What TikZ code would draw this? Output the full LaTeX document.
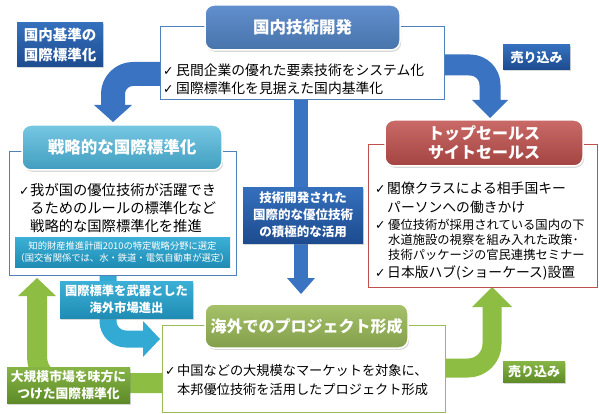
\documentclass[tikz,border=0pt]{standalone}
\usepackage{fontspec}
\setmainfont{Noto Sans CJK JP}
\newfontfamily\dvs{DejaVu Sans}
\usetikzlibrary{calc,shadows}
\newcommand\fsz[2]{\fontsize{#1}{#2}\selectfont}
\newcommand\chk[1]{\makebox[#1][l]{\dvs\fsz{12.5}{12}✓}}
\definecolor{arrblue}{HTML}{3A73C2}
\definecolor{arrteal}{HTML}{33AAD4}
\definecolor{arrgreen}{HTML}{8DBD42}
\definecolor{bordblue}{HTML}{4F81BD}
\definecolor{bordred}{HTML}{C0504D}
\definecolor{bordgreen}{HTML}{9BBB59}
\definecolor{blue1}{HTML}{3570BD}
\definecolor{blue2}{HTML}{1D4B8F}
\definecolor{teal1}{HTML}{3CB0D6}
\definecolor{teal2}{HTML}{1F8CB4}
\definecolor{green1}{HTML}{86B545}
\definecolor{green2}{HTML}{5E8B27}
\begin{document}
\begin{tikzpicture}[x=1pt,y=-1pt]
\tikzset{
  shaft/.style={line cap=butt, line join=round},
  panel/.style={fill=white, inner sep=0pt, line width=1pt},
  ttl/.style={rounded corners=9pt, draw=white, line width=1.5pt, text=white, align=center,
    inner sep=0pt, font=\bfseries\fsz{16.5}{19},
    drop shadow={shadow xshift=1.2pt, shadow yshift=-1.8pt, opacity=0.3}},
  lab/.style={text=white, align=center, inner sep=0pt, font=\bfseries\fsz{12.5}{17},
    drop shadow={shadow xshift=1.2pt, shadow yshift=-1.5pt, opacity=0.3}},
  dblue/.style={top color=blue1, bottom color=blue2},
  tealc/.style={top color=teal1, bottom color=teal2},
  greenc/.style={top color=green1, bottom color=green2},
  txt/.style={anchor=west, inner sep=0pt, text=black},
}
\useasboundingbox (0,0) rectangle (599,414);
\fill[white] (0,0) rectangle (599,414);

% arrow coordinates
\coordinate (a1s) at (170,74);  \coordinate (a1c) at (113,74);
\coordinate (a1b) at (113,106); \coordinate (a1t) at (113,122);
\coordinate (a2s) at (430,65);  \coordinate (a2c) at (490,65);
\coordinate (a2b) at (490,101); \coordinate (a2t) at (490,118);
\coordinate (a3s) at (301,95);  \coordinate (a3b) at (301,279);
\coordinate (a3t) at (301,294);
\coordinate (a4s) at (108,268); \coordinate (a4c) at (108,339);
\coordinate (a4b) at (144,339); \coordinate (a4t) at (160,339);
\coordinate (a5s) at (175,383); \coordinate (a5c) at (37,383);
\coordinate (a5b) at (37,295);  \coordinate (a5t) at (37,278);
\coordinate (a6s) at (435,368); \coordinate (a6c) at (492,368);
\coordinate (a6b) at (492,306); \coordinate (a6t) at (492,287);

% arrows
\draw[shaft, arrblue, line width=24pt, rounded corners=20pt] (a1s) -- (a1c) -- (a1b);
\fill[arrblue] ($(a1b)+(-19,-1)$) -- ($(a1b)+(19,-1)$) -- (a1t) -- cycle;
\draw[shaft, arrblue, line width=21pt, rounded corners=20pt] (a2s) -- (a2c) -- (a2b);
\fill[arrblue] ($(a2b)+(-18,-1)$) -- ($(a2b)+(18,-1)$) -- (a2t) -- cycle;
\draw[shaft, arrblue, line width=14pt] (a3s) -- (a3b);
\fill[arrblue] ($(a3b)+(-14,-1)$) -- ($(a3b)+(14,-1)$) -- (a3t) -- cycle;
\draw[shaft, arrteal, line width=17pt, rounded corners=18pt] (a4s) -- (a4c) -- (a4b);
\fill[arrteal] ($(a4b)+(-1,-18)$) -- ($(a4b)+(-1,18)$) -- (a4t) -- cycle;
\draw[shaft, arrgreen, line width=20pt, rounded corners=26pt] (a5s) -- (a5c) -- (a5b);
\fill[arrgreen] ($(a5b)+(-19,1)$) -- ($(a5b)+(19,1)$) -- (a5t) -- cycle;
\draw[shaft, arrgreen, line width=19pt, rounded corners=24pt] (a6s) -- (a6c) -- (a6b);
\fill[arrgreen] ($(a6b)+(-20,1)$) -- ($(a6b)+(20,1)$) -- (a6t) -- cycle;

% panels
\node[panel, draw=bordblue, minimum width=284pt, minimum height=73pt] (devbox) at (302,63.5) {};
\node[panel, draw=bordblue, minimum width=227pt, minimum height=123pt] (stratbox) at (122.5,213.5) {};
\node[panel, draw=bordred, minimum width=229pt, minimum height=142pt] (topbox) at (482.5,216) {};
\node[panel, draw=bordgreen, minimum width=283pt, minimum height=87pt] (projbox) at (303.5,368.5) {};

% titles
\node[ttl, top color=arrblue!80!white, bottom color=bordblue!90!black, minimum width=195pt, minimum height=45pt] (devtitle) at (302.5,27.5) {国内技術開発};
\node[ttl, top color=teal1!70!white, bottom color=teal2!85!white, minimum width=200pt, minimum height=45pt] (strattitle) at (122,147.5) {戦略的な国際標準化};
\node[ttl, top color=bordred!85!white, bottom color=bordred!85!black, minimum width=198pt, minimum height=46pt, font=\bfseries\fsz{16}{19}] (toptitle) at (484,143) {トップセールス\\サイトセールス};
\node[ttl, top color=bordgreen!90!white, bottom color=bordgreen!85!black, minimum width=203pt, minimum height=44pt, font=\bfseries\fsz{16}{19}] (projtitle) at (306.5,326) {海外でのプロジェクト形成};

% body texts
\node[txt, font=\fsz{13.8}{16}] (d1) at (163,70) {\chk{13pt}民間企業の優れた要素技術をシステム化};
\node[txt, font=\fsz{13.8}{16}] (d2) at (163,88) {\chk{13pt}国際標準化を見据えた国内基準化};

\node[txt, font=\fsz{14.3}{17}] (s1) at (19,190) {\chk{11pt}我が国の優位技術が活躍でき};
\node[txt, font=\fsz{14.3}{17}] (s2) at (30,208) {るためのルールの標準化など};
\node[txt, font=\fsz{14.3}{17}] (s3) at (30,226) {戦略的な国際標準化を推進};

\node[tealc, text=white, inner sep=0pt, align=center, minimum width=215pt, minimum height=30pt, font=\fsz{9.3}{12}] (ipbox) at (122.5,252) {知的財産推進計画2010の特定戦略分野に選定\\（国交省関係では、水・鉄道・電気自動車が選定）};

\node[txt, font=\fsz{13.8}{16}] (r1) at (375,188) {\chk{12pt}閣僚クラスによる相手国キー};
\node[txt, font=\fsz{13.8}{16}] (r2) at (387,207) {パーソンへの働きかけ};
\node[txt, font=\fsz{12.3}{14}] (r3) at (375,225) {\chk{13pt}優位技術が採用されている国内の下};
\node[txt, font=\fsz{12.3}{14}] (r4) at (388,240) {水道施設の視察を組み入れた政策･};
\node[txt, font=\fsz{12.3}{14}] (r5) at (388,255) {技術パッケージの官民連携セミナー};
\node[txt, font=\fsz{13.8}{16}] (r6) at (375,273) {\chk{12pt}日本版ハブ(ショーケース)設置};

\node[txt, font=\fsz{13.2}{16}] (p1) at (165,370) {\chk{12pt}中国などの大規模なマーケットを対象に、};
\node[txt, font=\fsz{13.2}{16}] (p2) at (177,390) {本邦優位技術を活用したプロジェクト形成};

% labels
\node[lab, dblue, minimum width=86pt, minimum height=44pt, font=\bfseries\fsz{14.5}{20}] (lab1) at (60,45) {国内基準の\\国際標準化};
\node[lab, dblue, minimum width=67pt, minimum height=25pt, font=\bfseries\fsz{13}{15}] (sell1) at (536.5,57.5) {売り込み};
\node[lab, dblue, minimum width=120pt, minimum height=56pt] (midlab) at (303,215) {技術開発された\\国際的な優位技術\\の積極的な活用};
\node[lab, tealc, minimum width=133pt, minimum height=37pt, font=\bfseries\fsz{12.3}{17}] (teallab) at (126.5,299.5) {国際標準を武器とした\\海外市場進出};
\node[lab, greenc, minimum width=123pt, minimum height=36pt, font=\bfseries\fsz{12.8}{17}] (greenlab) at (68.5,385) {大規模市場を味方に\\つけた国際標準化};
\node[lab, greenc, minimum width=62pt, minimum height=21pt, font=\bfseries\fsz{13}{15}] (sell2) at (534,372) {売り込み};
\end{tikzpicture}
\end{document}
